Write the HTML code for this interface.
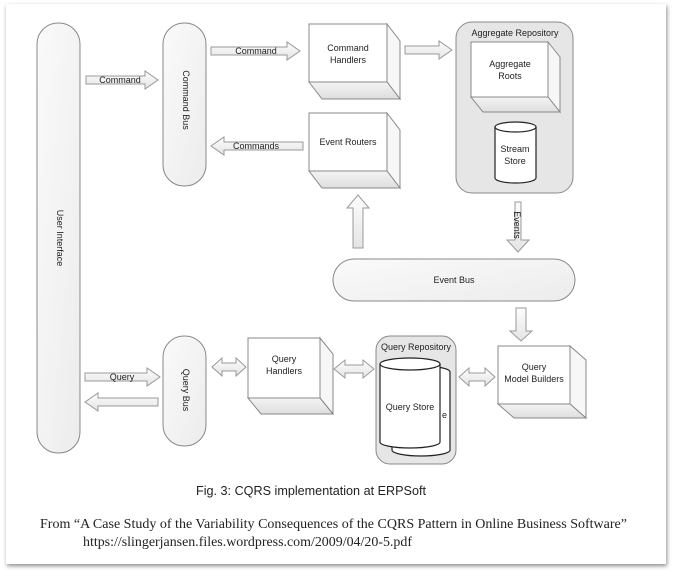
<!DOCTYPE html>
<html><head><meta charset="utf-8"><style>
html,body{margin:0;padding:0;background:#fff;}
svg{display:block;}
text{font-family:"Liberation Sans",sans-serif;fill:#222;}
</style></head><body>
<svg width="673" height="572" viewBox="0 0 673 572" xmlns="http://www.w3.org/2000/svg">
<defs>
<linearGradient id="pill" x1="0" y1="0" x2="1" y2="1"><stop offset="0" stop-color="#fafafa"/><stop offset="1" stop-color="#ececec"/></linearGradient>
<linearGradient id="arr" x1="0" y1="0" x2="0" y2="1"><stop offset="0" stop-color="#fdfdfd"/><stop offset="1" stop-color="#e4e4e4"/></linearGradient>
<linearGradient id="bot" x1="0" y1="0" x2="0" y2="1"><stop offset="0" stop-color="#f4f4f4"/><stop offset="1" stop-color="#dedede"/></linearGradient>
<filter id="sh" x="-5%" y="-5%" width="110%" height="110%"><feDropShadow dx="1" dy="2" stdDeviation="2" flood-color="#000" flood-opacity="0.45"/></filter>
</defs>
<rect x="0" y="0" width="673" height="572" fill="#fff"/>
<rect x="6" y="4" width="660" height="560" fill="#fff" filter="url(#sh)"/>

<g stroke="#888" stroke-width="1" fill="url(#pill)">
<rect x="37" y="23" width="43" height="430" rx="21"/>
<rect x="163" y="23" width="43" height="163" rx="21"/>
<rect x="163" y="336" width="43" height="110" rx="21"/>
<rect x="333" y="259" width="242" height="42" rx="21"/>
<rect x="456" y="22" width="117" height="171" rx="16" fill="#e6e6e6"/>
<rect x="376" y="336" width="80" height="128" rx="14" fill="#e6e6e6"/>
</g>

<g stroke="#999" stroke-width="1" fill="url(#arr)">
<path d="M86,76 L145,76 L145,71 L158,80 L145,89 L145,84 L86,84 Z"/>
<path d="M211,47 L287,47 L287,42 L300,51 L287,60 L287,55 L211,55 Z"/>
<path d="M405,46 L439,46 L439,41 L452,50 L439,59 L439,54 L405,54 Z"/>
<path d="M303,142 L224,142 L224,137 L211,146 L224,155 L224,150 L303,150 Z"/>
<path d="M85,373 L147,373 L147,368 L160,377 L147,386 L147,381 L85,381 Z"/>
<path d="M158,398 L98,398 L98,393 L85,402 L98,411 L98,406 L158,406 Z"/>
<path d="M353,248 L353,208 L347,208 L358,195 L369,208 L363,208 L363,248 Z"/>
<path d="M515,202 L521,202 L521,240 L529,240 L518,252 L507,240 L515,240 Z"/>
<path d="M516,308 L526,308 L526,331 L532,331 L521,341 L510,331 L516,331 Z"/>
<path d="M212,367 L222,358 L222,363 L236,363 L236,358 L246,367 L236,376 L236,371 L222,371 L222,376 Z"/>
<path d="M334,369 L345,360 L345,365 L363,365 L363,360 L374,369 L363,378 L363,373 L345,373 L345,378 Z"/>
<path d="M459,377 L469,368 L469,373 L485,373 L485,368 L495,377 L485,386 L485,381 L469,381 L469,386 Z"/>
</g>

<g stroke="#888" stroke-width="1">
<g><rect x="309" y="24" width="78" height="58" fill="#fff"/><path d="M387,24 L400,41 L400,99 L387,82 Z" fill="#f7f7f7"/><path d="M309,82 L387,82 L400,99 L322,99 Z" fill="url(#bot)"/></g>
<g><rect x="309" y="113" width="78" height="58" fill="#fff"/><path d="M387,113 L400,130 L400,188 L387,171 Z" fill="#f7f7f7"/><path d="M309,171 L387,171 L400,188 L322,188 Z" fill="url(#bot)"/></g>
<g><rect x="471" y="42" width="77" height="55" fill="#fff"/><path d="M548,42 L560,57 L560,112 L548,97 Z" fill="#f7f7f7"/><path d="M471,97 L548,97 L560,112 L483,112 Z" fill="url(#bot)"/></g>
<g><rect x="248" y="338" width="72" height="60" fill="#fff"/><path d="M320,338 L333,354 L333,414 L320,398 Z" fill="#f7f7f7"/><path d="M248,398 L320,398 L333,414 L261,414 Z" fill="url(#bot)"/></g>
<g><rect x="498" y="346" width="72" height="58" fill="#fff"/><path d="M570,346 L586,360 L586,418 L570,404 Z" fill="#f7f7f7"/><path d="M498,404 L570,404 L586,418 L514,418 Z" fill="url(#bot)"/></g>
</g>

<g stroke="#222" stroke-width="1.2" fill="#fff">
<path d="M495,127 A20.5,5 0 0 1 536,127 L536,178 A20.5,5 0 0 1 495,178 Z"/>
<path d="M495,127 A20.5,5 0 0 0 536,127" fill="none"/>
<path d="M392,372 A29,6 0 0 1 450,372 L450,450 A29,6 0 0 1 392,450 Z"/>
<path d="M380,364 A30,6 0 0 1 440,364 L440,442 A30,6 0 0 1 380,442 Z"/>
<path d="M380,364 A30,6 0 0 0 440,364" fill="none"/>
</g>
<text x="442" y="418" font-size="9">e</text>

<g font-size="9" text-anchor="middle">
<text x="120" y="83" fill="#333">Command</text>
<text x="256" y="54">Command</text>
<text x="256" y="149">Commands</text>
<text x="122" y="380">Query</text>
<text x="348" y="51">Command</text>
<text x="348" y="63">Handlers</text>
<text x="348" y="145">Event Routers</text>
<text x="515" y="36">Aggregate Repository</text>
<text x="510" y="67">Aggregate</text>
<text x="510" y="79">Roots</text>
<text x="515" y="152">Stream</text>
<text x="515" y="164">Store</text>
<text x="454" y="283">Event Bus</text>
<text x="284" y="362">Query</text>
<text x="284" y="374">Handlers</text>
<text x="416" y="350">Query Repository</text>
<text x="410" y="410">Query Store</text>
<text x="534" y="370">Query</text>
<text x="534" y="382">Model Builders</text>
<text transform="translate(183,100) rotate(90)">Command Bus</text>
<text transform="translate(183,390) rotate(90)">Query Bus</text>
<text transform="translate(57,238) rotate(90)">User Interface</text>
<text transform="translate(514,225) rotate(90)">Events</text>
</g>

<text x="196" y="495" font-size="12.5" textLength="230" lengthAdjust="spacingAndGlyphs">Fig. 3: CQRS implementation at ERPSoft</text>
<text x="40" y="528" font-size="14" textLength="587" lengthAdjust="spacingAndGlyphs" style="font-family:'Liberation Serif',serif">From “A Case Study of the Variability Consequences of the CQRS Pattern in Online Business Software”</text>
<text x="83" y="546" font-size="14" textLength="329" lengthAdjust="spacingAndGlyphs" style="font-family:'Liberation Serif',serif">https://slingerjansen.files.wordpress.com/2009/04/20-5.pdf</text>
</svg>
</body></html>
